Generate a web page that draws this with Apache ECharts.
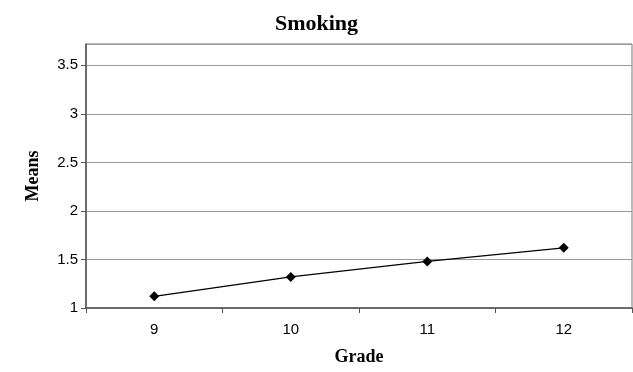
<!DOCTYPE html>
<html><head><meta charset="utf-8">
<script src="https://cdn.jsdelivr.net/npm/echarts@6/dist/echarts.min.js"></script>
<style>html,body{margin:0;padding:0;background:#fff}#c{width:633px;height:372px}</style>
</head><body><div id="c"></div>
<script>
const categories = ['9', '10', '11', '12'];
const means = [1.12, 1.32, 1.48, 1.62];
const yMin = 1, yMax = 3.72, yStep = 0.5;

const chart = echarts.init(document.getElementById('c'));
chart.setOption({
  animation: false,
  title: {text: 'Smoking', left: 'center', top: 8,
    textStyle: {fontFamily: 'Liberation Serif', fontWeight: 'bold', fontSize: 22, color: '#000'}},
  grid: {left: 86, right: 1, top: 44, bottom: 64, show: true, borderColor: '#777', borderWidth: 1,
    containLabel: false, outerBoundsMode: 'none'},
  xAxis: {type: 'category', data: categories, boundaryGap: true,
    name: 'Grade', nameLocation: 'middle', nameGap: 40,
    nameTextStyle: {fontFamily: 'Liberation Serif', fontWeight: 'bold', fontSize: 18, color: '#000'},
    axisLine: {lineStyle: {color: '#555', width: 1.5}},
    axisTick: {show: true, length: 5, inside: false, alignWithLabel: false, lineStyle: {color: '#555'}},
    axisLabel: {margin: 14, fontFamily: 'Liberation Sans', fontSize: 15, color: '#000'},
    splitLine: {show: false}},
  yAxis: {type: 'value', min: yMin, max: yMax, interval: yStep,
    name: 'Means', nameLocation: 'middle', nameGap: 44, nameRotate: 90,
    nameTextStyle: {fontFamily: 'Liberation Serif', fontWeight: 'bold', fontSize: 18, color: '#000'},
    axisLine: {show: true, lineStyle: {color: '#555', width: 1.5}},
    axisTick: {show: true, length: 5, lineStyle: {color: '#555'}},
    axisLabel: {showMaxLabel: false, margin: 8, fontFamily: 'Liberation Sans', fontSize: 15, color: '#000'},
    splitLine: {show: true, lineStyle: {color: '#999', width: 1}}},
  series: [{type: 'line', data: means, symbol: 'diamond', symbolSize: 10,
    itemStyle: {color: '#000'}, lineStyle: {color: '#000', width: 1.3}}]
});
</script></body></html>
